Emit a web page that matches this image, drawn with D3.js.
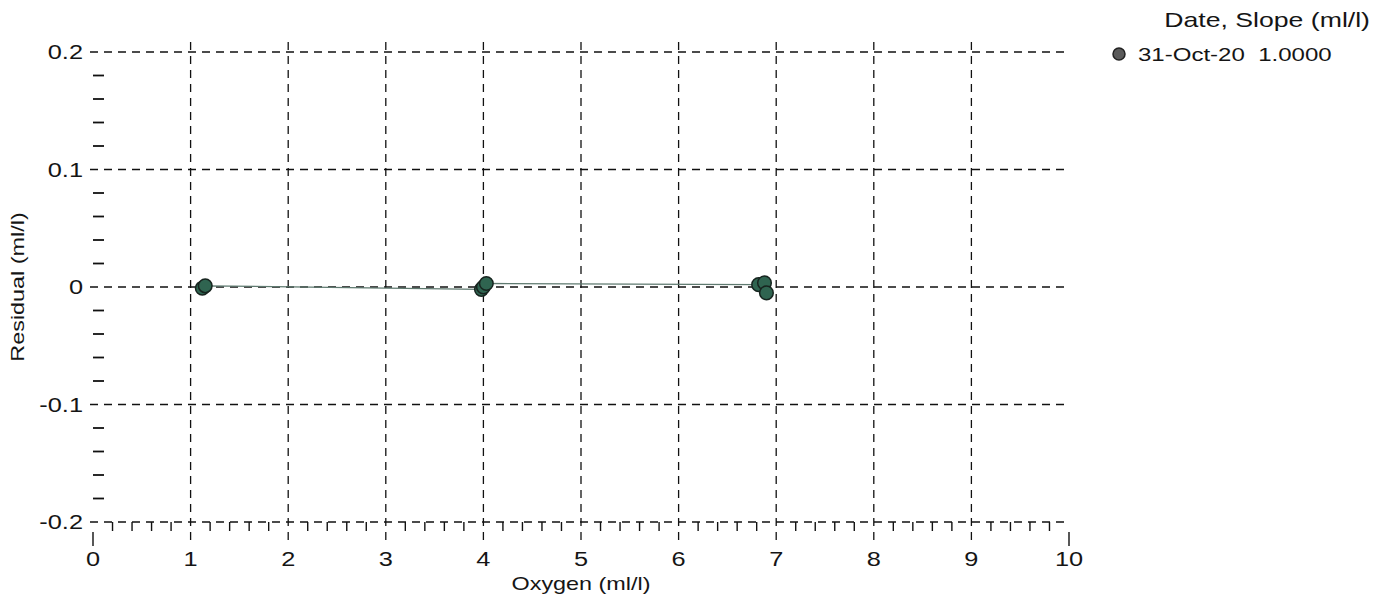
<!DOCTYPE html>
<meta charset="utf-8">
<script src="https://d3js.org/d3.v7.min.js"></script>
<style>
  body { margin: 0; background: #fff; }
  text { font-family: "Liberation Sans", Arial, sans-serif; fill: #151515; }
</style>
<div id="chart"></div>
<script>
// residuals
const oxygen   = [1.12, 1.15, 3.98, 4.00, 4.03, 6.82, 6.88, 6.90];
const residual = [-0.001, 0.001, -0.002, 0.000, 0.003, 0.002, 0.0035, -0.005];
const xTicks = [0, 1, 2, 3, 4, 5, 6, 7, 8, 9, 10];
const yTicks = [-0.2, -0.1, 0, 0.1, 0.2];
const yTickLabels = ["-0.2", "-0.1", "0", "0.1", "0.2"];
const legendLabel = "31-Oct-20  1.0000";
const legendTitle = "Date, Slope (ml/l)";

const W = 1375, H = 596;
const SX = 1.3; // text in the original is drawn wide
const svg = d3.select("#chart").append("svg")
    .attr("width", W).attr("height", H);

const x = d3.scaleLinear().domain([0, 10]).range([93, 1069]);
const y = d3.scaleLinear().domain([-0.2, 0.2]).range([522, 52]);

const grid = svg.append("g")
    .attr("stroke", "#111").attr("stroke-width", 1.3)
    .attr("stroke-dasharray", "8,6");

// horizontal dashed grid
grid.selectAll("line.h").data(yTicks).join("line")
    .attr("x1", 90).attr("x2", x(10))
    .attr("y1", d => y(d)).attr("y2", d => y(d));

// vertical dashed grid (1..9)
grid.selectAll("line.v").data(xTicks.slice(1, -1)).join("line")
    .attr("x1", d => x(d)).attr("x2", d => x(d))
    .attr("y1", 42).attr("y2", 545);

// x major ticks at ends
svg.append("g").attr("stroke", "#111").attr("stroke-width", 1.4)
  .selectAll("line").data([0, 10]).join("line")
    .attr("x1", d => x(d)).attr("x2", d => x(d))
    .attr("y1", 532).attr("y2", 546);

// x minor ticks
const xMinor = d3.range(0, 50).map(i => i * 0.2).filter(v => Math.abs(v - Math.round(v)) > 1e-6);
svg.append("g").attr("stroke", "#111").attr("stroke-width", 1.4)
  .selectAll("line").data(xMinor).join("line")
    .attr("x1", d => x(d)).attr("x2", d => x(d))
    .attr("y1", y(-0.2)).attr("y2", y(-0.2) + 9);

// y minor ticks
const yMinor = d3.range(-20, 21, 2).map(i => i / 100).filter(v => Math.abs(v * 10 - Math.round(v * 10)) > 1e-6);
svg.append("g").attr("stroke", "#111").attr("stroke-width", 1.8)
  .selectAll("line").data(yMinor).join("line")
    .attr("x1", x(0)).attr("x2", x(0) + 11)
    .attr("y1", d => y(d)).attr("y2", d => y(d));

// wide text helper
function wideText(px, py, str, size, anchor, rot) {
  return svg.append("text")
    .attr("transform", `translate(${px},${py})${rot ? " rotate(" + rot + ")" : ""} scale(${SX},1)`)
    .attr("text-anchor", anchor).attr("font-size", size)
    .style("white-space", "pre")
    .text(str);
}

// tick labels
yTicks.forEach((d, i) => wideText(83, y(d) + 7, yTickLabels[i], 19.5, "end"));
xTicks.forEach(d => wideText(x(d), 566, String(d), 19.5, "middle"));

// axis titles
wideText(x(5), 590, "Oxygen (ml/l)", 18, "middle");
wideText(24, y(0), "Residual (ml/l)", 18, "middle", -90);

// data
const pts = oxygen.map((o, i) => ({o, r: residual[i]}));
svg.append("path").datum(pts)
    .attr("d", d3.line().x(d => x(d.o)).y(d => y(d.r)))
    .attr("fill", "none").attr("stroke", "#5f7a70").attr("stroke-width", 1.2);

svg.append("g").selectAll("circle").data(pts).join("circle")
    .attr("cx", d => x(d.o)).attr("cy", d => y(d.r)).attr("r", 6.8)
    .attr("fill", "#2f6450").attr("stroke", "#17241f").attr("stroke-width", 1.5);

// legend
wideText(1370, 27, legendTitle, 20.5, "end");
svg.append("circle").attr("cx", 1119).attr("cy", 54).attr("r", 6)
    .attr("fill", "#5a5a5a").attr("stroke", "#222").attr("stroke-width", 1.5);
wideText(1138, 61, legendLabel, 18.5, "start");
</script>
